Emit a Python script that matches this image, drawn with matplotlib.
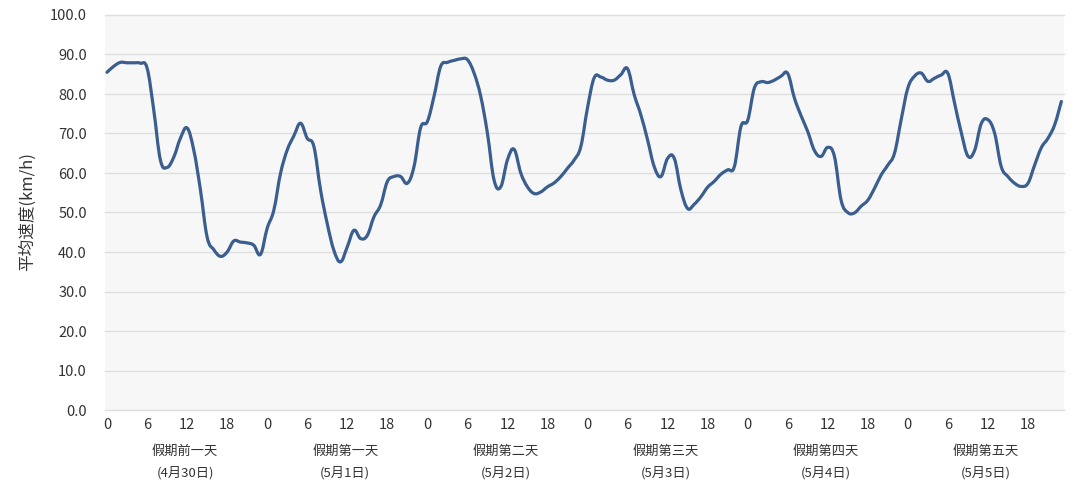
import matplotlib
matplotlib.use("Agg")
import matplotlib.pyplot as plt
from matplotlib.path import Path
from matplotlib.patches import PathPatch
import matplotlib.transforms as mtransforms

plt.rcParams['font.family'] = ['Noto Sans CJK SC', 'DejaVu Sans']

# ---- data ----
hours = list(range(144))
speed_day0 = [85.5, 87.0, 88.0, 87.9, 87.9, 87.8, 86.6, 76.0, 63.3, 61.4, 64.0, 68.8,
              71.4, 65.8, 55.7, 43.8, 40.6, 38.9, 40.0, 42.8, 42.5, 42.3, 41.7, 39.4]
speed_day1 = [46.0, 50.6, 59.9, 65.8, 69.4, 72.6, 68.8, 66.7, 55.7, 47.2, 40.4, 37.5,
              41.3, 45.5, 43.4, 44.2, 48.9, 51.9, 57.8, 59.1, 59.1, 57.4, 61.6, 71.5]
speed_day2 = [73.0, 79.4, 87.0, 88.0, 88.5, 88.9, 88.7, 85.3, 79.4, 70.1, 58.2, 56.5,
              63.3, 66.0, 60.0, 56.5, 54.8, 55.2, 56.5, 57.5, 59.1, 61.2, 63.3, 66.7]
speed_day3 = [76.5, 84.1, 84.3, 83.5, 83.5, 84.9, 86.4, 79.8, 74.7, 68.4, 61.6, 59.1,
              63.7, 63.7, 55.7, 51.0, 52.1, 54.0, 56.4, 57.9, 59.7, 60.8, 61.6, 71.8]
speed_day4 = [73.3, 81.5, 83.1, 82.9, 83.5, 84.5, 85.2, 79.0, 74.5, 70.5, 65.7, 64.2,
              66.5, 64.2, 53.1, 50.0, 49.9, 51.6, 53.1, 56.1, 59.5, 62.0, 65.0, 73.5]
speed_day5 = [81.5, 84.5, 85.3, 83.2, 84.0, 84.8, 85.2, 77.7, 70.3, 64.3, 65.7, 72.5,
              73.5, 70.1, 61.6, 59.1, 57.4, 56.6, 57.4, 62.0, 66.4, 68.8, 72.2, 78.1]
speed = speed_day0 + speed_day1 + speed_day2 + speed_day3 + speed_day4 + speed_day5

tick_hours = [0, 6, 12, 18]
day_names = ["假期前一天", "假期第一天", "假期第二天", "假期第三天", "假期第四天", "假期第五天"]
day_dates = ["(4月30日)", "(5月1日)", "(5月2日)", "(5月3日)", "(5月4日)", "(5月5日)"]
y_ticks = [0, 10, 20, 30, 40, 50, 60, 70, 80, 90, 100]

LINE = '#3a5e8e'
TXT = '#333333'
GRID = '#dedede'

fig = plt.figure(figsize=(10.8, 4.9), dpi=100)
ax = fig.add_axes([105 / 1080, 80 / 490, 959 / 1080, 395 / 490])
ax.set_facecolor('#f7f7f7')
for s in ax.spines.values():
    s.set_visible(False)

ax.set_xlim(-0.3, 143.4)
ax.set_ylim(0, 100)
ax.set_yticks(y_ticks)
ax.set_yticklabels([f"{v:.1f}" for v in y_ticks])
xt = [d * 24 + h for d in range(6) for h in tick_hours]
ax.set_xticks(xt)
ax.set_xticklabels([str(h) for d in range(6) for h in tick_hours])
ax.tick_params(axis='both', length=0, labelsize=10.5, labelcolor=TXT)
ax.tick_params(axis='y', pad=13)
ax.tick_params(axis='x', pad=6)
ax.yaxis.grid(True, color=GRID, lw=1.0)
ax.set_axisbelow(True)
for gl in ax.get_ygridlines():
    gl.set_clip_on(False)

# ---- smooth line (Catmull-Rom bezier through the data points) ----
k = 0.19
n = len(hours)
verts = [(hours[0], speed[0])]
codes = [Path.MOVETO]
for i in range(n - 1):
    x0, y0 = hours[max(i - 1, 0)], speed[max(i - 1, 0)]
    x1, y1 = hours[i], speed[i]
    x2, y2 = hours[i + 1], speed[i + 1]
    x3, y3 = hours[min(i + 2, n - 1)], speed[min(i + 2, n - 1)]
    c1 = (x1 + (x2 - x0) * k, y1 + (y2 - y0) * k)
    c2 = (x2 - (x3 - x1) * k, y2 - (y3 - y1) * k)
    verts += [c1, c2, (x2, y2)]
    codes += [Path.CURVE4] * 3

patch = PathPatch(Path(verts, codes), facecolor='none', edgecolor=LINE, lw=2.3,
                  capstyle='round', joinstyle='round', transform=ax.transData)
ax.add_patch(patch)

# ---- day labels ----
trans = mtransforms.blended_transform_factory(ax.transData, ax.transAxes)
for d in range(6):
    cx = d * 24 + 11.7
    ax.text(cx, -0.106, day_names[d], transform=trans, ha='center', va='center',
            fontsize=9.5, color=TXT)
    ax.text(cx, -0.159, day_dates[d], transform=trans, ha='center', va='center',
            fontsize=9.5, color=TXT)

fig.text(27 / 1080, 1 - 212 / 490, "平均速度(km/h)", rotation=90, ha='center', va='center',
         fontsize=12, color=TXT)

fig.savefig("out.png", dpi=100, facecolor='white')
